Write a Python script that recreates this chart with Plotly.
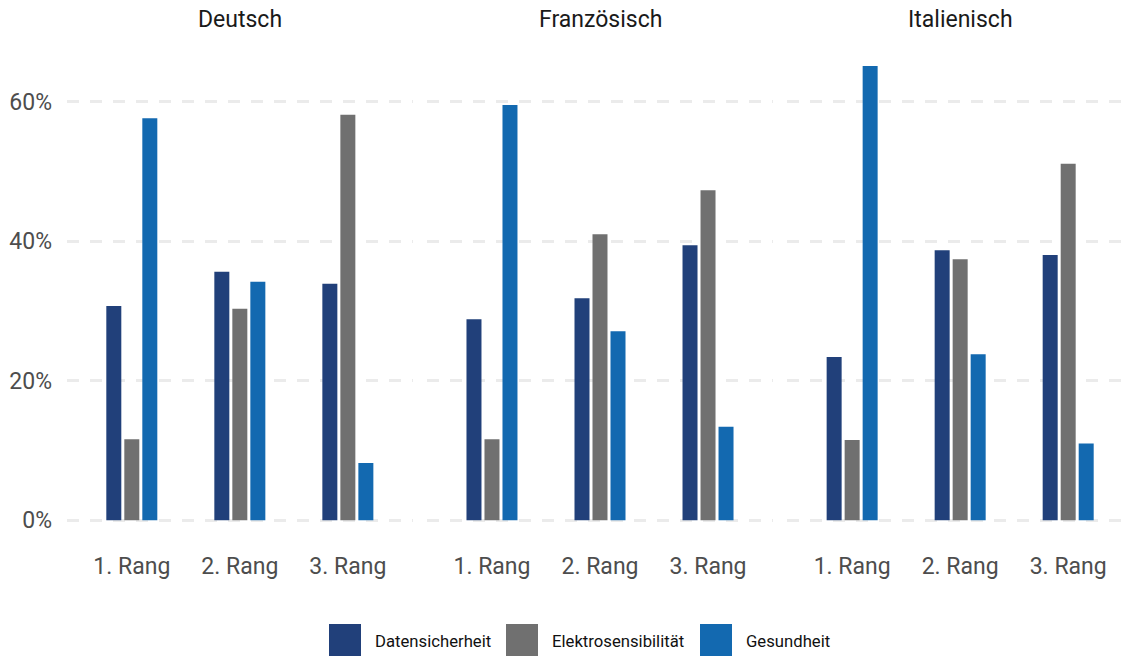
import plotly.graph_objects as go

# ---- data ----
languages = ["Deutsch", "Französisch", "Italienisch"]
ranks = ["1. Rang", "2. Rang", "3. Rang"]
series_names = ["Datensicherheit", "Elektrosensibilität", "Gesundheit"]

datensicherheit = {
    "Deutsch": [0.307, 0.356, 0.339],
    "Französisch": [0.288, 0.318, 0.394],
    "Italienisch": [0.234, 0.387, 0.380],
}
elektrosensibilitaet = {
    "Deutsch": [0.116, 0.303, 0.581],
    "Französisch": [0.116, 0.410, 0.473],
    "Italienisch": [0.115, 0.374, 0.511],
}
gesundheit = {
    "Deutsch": [0.576, 0.342, 0.082],
    "Französisch": [0.595, 0.271, 0.134],
    "Italienisch": [0.651, 0.238, 0.110],
}
y_ticks = [0, 0.2, 0.4, 0.6]

series_values = [datensicherheit, elektrosensibilitaet, gesundheit]
colors = ["#21407A", "#707070", "#1369B0"]

# ---- layout geometry (pixels; body margin removed via post_script) ----
W, H = 1133, 657
ML, MR, MT, MB = 67, 0, 43, 114
pw = W - ML - MR
ph = H - MT - MB
gap_px = 14.5
panel_w = (pw - 2 * gap_px) / 3

FONT = "Roboto"

fig = go.Figure()

for i, lang in enumerate(languages):
    xa = "x" if i == 0 else f"x{i+1}"
    for s, name in enumerate(series_names):
        fig.add_trace(go.Bar(
            x=ranks,
            y=series_values[s][lang],
            name=name,
            marker=dict(color=colors[s], line=dict(width=0)),
            xaxis=xa,
            yaxis="y",
            showlegend=False,
            hovertemplate="%{x}: %{y:.1%}<extra>" + name + "</extra>",
        ))

layout = dict(
    width=W, height=H,
    margin=dict(l=ML, r=MR, t=MT, b=MB),
    paper_bgcolor="white",
    plot_bgcolor="white",
    barmode="group",
    bargap=0.5,
    bargroupgap=0.167,
    font=dict(family=FONT, color="#4D4D4D"),
    showlegend=False,
    yaxis=dict(
        range=[-0.0326, 0.684],
        tickvals=y_ticks,
        tickformat=".0%",
        showgrid=True,
        gridcolor="#EBEBEB",
        gridwidth=2.5,
        griddash="12px,11px",
        zeroline=False,
        showline=False,
        ticks="",
        tickfont=dict(size=23, color="#4D4D4D", family=FONT),
        ticklabelstandoff=14,
        anchor="x",
    ),
)

annotations = []
for i, lang in enumerate(languages):
    x0 = (i * (panel_w + gap_px)) / pw
    x1 = (i * (panel_w + gap_px) + panel_w) / pw
    key = "xaxis" if i == 0 else f"xaxis{i+1}"
    layout[key] = dict(
        domain=[x0, min(x1, 1.0)],
        range=[-0.6, 2.6],
        showgrid=False,
        zeroline=False,
        showline=False,
        ticks="",
        tickfont=dict(size=23, color="#4D4D4D", family=FONT),
        ticklabelstandoff=7,
        anchor="y",
    )
    annotations.append(dict(
        text=lang, xref="paper", yref="paper",
        x=(x0 + x1) / 2, y=1 + (MT - 20) / ph,
        xanchor="center", yanchor="middle", showarrow=False,
        font=dict(size=23, color="#1A1A1A", family=FONT),
    ))

# ---- manual legend (pixel positions on screen) ----
def px_x(px):
    return (px - ML) / pw

def px_y(py):
    return (H - MB - py) / ph

legend_swatch_x = [329, 506, 700]
shapes = []
for s, name in enumerate(series_names):
    sx = legend_swatch_x[s]
    shapes.append(dict(
        type="rect", xref="paper", yref="paper",
        x0=px_x(sx), x1=px_x(sx + 32), y0=px_y(624), y1=px_y(656),
        fillcolor=colors[s], line=dict(width=0),
    ))
    annotations.append(dict(
        text=name, xref="paper", yref="paper",
        x=px_x(sx + 44), y=px_y(641),
        xanchor="left", yanchor="middle", showarrow=False,
        font=dict(size=16.7, color="#111111", family=FONT),
    ))

layout["annotations"] = annotations
layout["shapes"] = shapes
fig.update_layout(**layout)

fig.write_html(
    "out.html",
    config={"displayModeBar": False},
    post_script="document.body.style.margin='0';document.body.style.overflow='hidden';",
)
